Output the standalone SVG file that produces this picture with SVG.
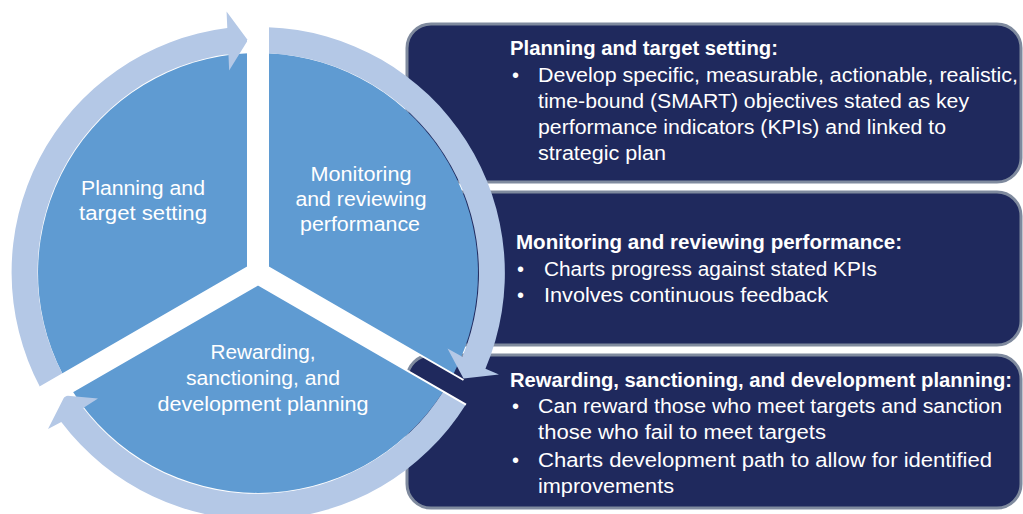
<svg xmlns="http://www.w3.org/2000/svg" width="1023" height="514" viewBox="0 0 1023 514">
<style>
.box{fill:#1f295d;stroke:#7f8a9e;stroke-width:3}
.sector{fill:#5f9bd2}
.ring{fill:#b4c8e6}
.gap{stroke:#ffffff;stroke-width:2;fill:none}
text{font-family:"Liberation Sans",Arial,sans-serif}
.lbl{fill:#ffffff;font-size:20px;text-anchor:middle}
.hd{fill:#ffffff;font-size:20px;font-weight:bold}
.bd{fill:#ffffff;font-size:20px}
</style>
<rect width="1023" height="514" fill="#ffffff"/>
<g id="box-planning">
<rect class="box" x="407" y="24" width="614" height="158" rx="24"/>
<text class="hd" x="510" y="55" textLength="268" lengthAdjust="spacingAndGlyphs">Planning and target setting:</text>
<text class="bd" x="512" y="82">•</text>
<text class="bd" x="538" y="82" textLength="480" lengthAdjust="spacingAndGlyphs">Develop specific, measurable, actionable, realistic,</text>
<text class="bd" x="538" y="108" textLength="431" lengthAdjust="spacingAndGlyphs">time-bound (SMART) objectives stated as key</text>
<text class="bd" x="538" y="134" textLength="408" lengthAdjust="spacingAndGlyphs">performance indicators (KPIs)  and linked to</text>
<text class="bd" x="538" y="160" textLength="128" lengthAdjust="spacingAndGlyphs">strategic plan</text>
</g>
<g id="box-monitoring">
<rect class="box" x="407" y="192" width="614" height="153" rx="24"/>
<text class="hd" x="516" y="249" textLength="386" lengthAdjust="spacingAndGlyphs">Monitoring and reviewing performance:</text>
<text class="bd" x="517" y="276">•</text>
<text class="bd" x="544" y="276" textLength="333" lengthAdjust="spacingAndGlyphs">Charts progress against stated KPIs</text>
<text class="bd" x="517" y="302">•</text>
<text class="bd" x="544" y="302" textLength="284" lengthAdjust="spacingAndGlyphs">Involves continuous feedback</text>
</g>
<g id="box-rewarding">
<rect class="box" x="407" y="355" width="614" height="153" rx="24"/>
<text class="hd" x="510" y="387" textLength="502" lengthAdjust="spacingAndGlyphs">Rewarding, sanctioning, and development planning:</text>
<text class="bd" x="512" y="413">•</text>
<text class="bd" x="538" y="413" textLength="464" lengthAdjust="spacingAndGlyphs">Can reward those who meet targets and sanction</text>
<text class="bd" x="538" y="439" textLength="288" lengthAdjust="spacingAndGlyphs">those who fail to meet targets</text>
<text class="bd" x="512" y="467">•</text>
<text class="bd" x="538" y="467" textLength="454" lengthAdjust="spacingAndGlyphs">Charts development path to allow for identified</text>
<text class="bd" x="538" y="493" textLength="136" lengthAdjust="spacingAndGlyphs">improvements</text>
</g>
<g id="sector-monitoring">
<path class="sector" d="M268,267.2 L268,53.2 A220,220 0 0 1 453.3,374.2 Z"/>
</g>
<g id="sector-rewarding">
<path class="sector" d="M258,284.5 L443.3,391.5 A220,220 0 0 1 72.7,391.5 Z"/>
</g>
<g id="sector-planning">
<path class="sector" d="M248,267.2 L62.7,374.2 A220,220 0 0 1 248,53.2 Z"/>
</g>
<g id="connectors">
<path class="ring" d="M40.13,387.24 A246,246 0 0 1 227.29,28.1 L226.57,11.62 L247.84,40.22 L229.15,70.56 L228.43,54.08 A220,220 0 0 0 62.68,374.23 Z"/>
<path class="ring" d="M268,27.2 A246,246 0 0 1 485.44,368.85 L499,374.5 L463.5,378.5 L447.5,348.5 L462.38,356.85 A220,220 0 0 0 268,53.23 Z"/>
<path class="ring" d="M465.87,404.56 A246,246 0 0 1 61.28,422.04 L48,429 L65,395.5 L98,398.5 L83.2,408.08 A220,220 0 0 0 443.32,391.55 Z"/>
<path class="gap" d="M268,267.2 L268,27 M248,267.2 L248,40 M268,267.2 L463.5,380 M258,284.5 L466,404.6 M258,284.5 L63,397 M248,267.2 L40,387.3"/>
</g>
<g id="labels">
<text class="lbl" x="143" y="195" textLength="124" lengthAdjust="spacingAndGlyphs">Planning and</text>
<text class="lbl" x="143" y="220" textLength="128" lengthAdjust="spacingAndGlyphs">target setting</text>
<text class="lbl" x="361" y="181" textLength="101" lengthAdjust="spacingAndGlyphs">Monitoring</text>
<text class="lbl" x="361" y="206" textLength="131" lengthAdjust="spacingAndGlyphs">and reviewing</text>
<text class="lbl" x="360" y="231" textLength="120" lengthAdjust="spacingAndGlyphs">performance</text>
<text class="lbl" x="263" y="359" textLength="105" lengthAdjust="spacingAndGlyphs">Rewarding,</text>
<text class="lbl" x="263" y="385" textLength="154" lengthAdjust="spacingAndGlyphs">sanctioning, and</text>
<text class="lbl" x="263" y="411" textLength="211" lengthAdjust="spacingAndGlyphs">development planning</text>
</g>
</svg>
